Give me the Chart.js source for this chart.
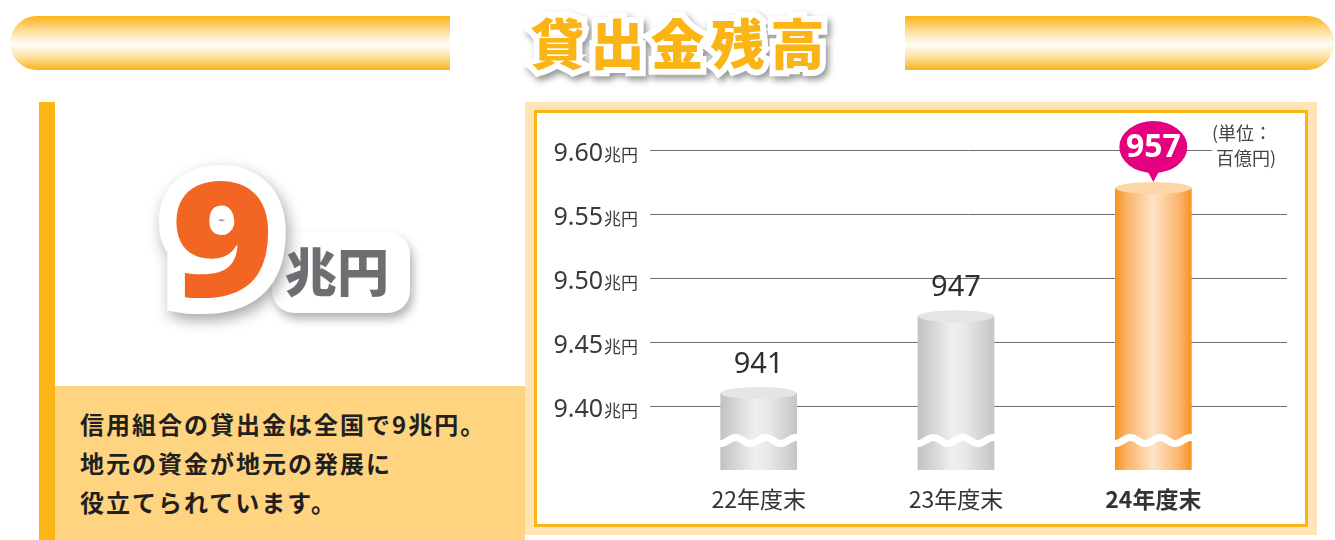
<!DOCTYPE html>
<html><head><meta charset="utf-8">
<script src="https://cdn.jsdelivr.net/npm/chart.js@4/dist/chart.umd.min.js"></script>
<style>
html,body{margin:0;padding:0;background:#fff;}
body{width:1335px;height:540px;position:relative;overflow:hidden;font-family:"Noto Sans CJK JP","Noto Sans",sans-serif;}
.hbar{position:absolute;top:16px;height:54px;background:linear-gradient(to bottom,#fbb415 0%,#fcc85c 14%,#fee6b3 33%,#fffdf8 53%,#fee4ab 74%,#fcc550 90%,#fbb415 100%);}
#hl{left:10px;width:440px;border-radius:27px 0 0 27px;}
#hr{left:905px;width:429px;border-radius:0 27px 27px 0;}
.title{position:absolute;left:450px;width:455px;top:15px;text-align:center;font-size:54px;font-weight:900;line-height:54px;letter-spacing:6px;padding-left:6px;box-sizing:border-box;white-space:nowrap;}
.title.back{color:#fff;-webkit-text-stroke:12px #fff;filter:drop-shadow(3px 4px 3px rgba(80,80,80,.6));}
.title.front{color:#fbb415;}
#ybar{position:absolute;left:39px;top:102px;width:16px;height:438px;background:#fbb615;}
#pbox{position:absolute;left:55px;top:386px;width:470px;height:154px;background:#fed480;}
#ptext{position:absolute;left:80px;top:404px;font-size:24px;font-weight:700;line-height:39px;letter-spacing:2px;color:#231f20;white-space:nowrap;}
.big9{position:absolute;left:171px;top:155px;font-family:"Noto Sans",sans-serif;font-weight:900;font-size:160px;line-height:160px;transform:scaleX(1.1);transform-origin:left top;}
.big9.back{color:#fff;-webkit-text-stroke:32px #fff;filter:drop-shadow(3px 6px 7px rgba(0,0,0,.35));}
.big9.front{color:#f26522;}
#chorect{position:absolute;left:272px;top:232px;width:138px;height:81px;border-radius:22px;background:#fff;box-shadow:3px 6px 10px rgba(0,0,0,.3);}
#cho{position:absolute;left:285px;top:244px;font-size:52px;font-weight:900;line-height:52px;color:#6d6e71;white-space:nowrap;}
#cpo{position:absolute;left:525px;top:102px;width:792px;height:433px;background:#ffe5b5;}
#cpi{position:absolute;left:534px;top:110px;width:774px;height:417px;box-sizing:border-box;border:3px solid #fbb615;background:#fff;}
#c{position:absolute;left:537px;top:113px;}
#unit{position:absolute;left:1212px;top:120px;width:88px;font-size:18px;line-height:25px;color:#444;background:#fff;white-space:nowrap;}
</style></head>
<body>
<div class="hbar" id="hl"></div>
<div class="hbar" id="hr"></div>
<div class="title back">貸出金残高</div>
<div class="title front">貸出金残高</div>

<div id="ybar"></div>
<div id="pbox"></div>
<div id="ptext">信用組合の貸出金は全国で9兆円。<br>地元の資金が地元の発展に<br>役立てられています。</div>
<div id="chorect"></div>
<div class="big9 back">9</div>
<div class="big9 front">9</div>
<div id="cho">兆円</div>

<div id="cpo"></div>
<div id="cpi"></div>
<canvas id="c" width="768" height="411"></canvas>
<div id="unit">(単位：<br>&nbsp;百億円)</div>

<script>
// ---- data ----
const categories = ['22年度末', '23年度末', '24年度末'];
const loanValues = [9.41, 9.47, 9.57];          // 兆円
const valueLabels = ['941', '947', '957'];      // 百億円
const yTickValues = [9.40, 9.45, 9.50, 9.55, 9.60];
const yTickLabels = ['9.40', '9.45', '9.50', '9.55', '9.60'];
const yTickUnit = '兆円';
const highlightIndex = 2;
const breakValue = 9.373;

const HALF = 38;
function barFill(ctx) {
  const chart = ctx.chart, xs = chart.scales.x;
  if (!xs || !chart.chartArea || ctx.dataIndex === undefined) return '#ddd';
  const cx = xs.getPixelForValue(ctx.dataIndex);
  const g = chart.ctx.createLinearGradient(cx - HALF, 0, cx + HALF, 0);
  if (ctx.dataIndex === highlightIndex) {
    g.addColorStop(0, '#f7941d'); g.addColorStop(0.15, '#fab468');
    g.addColorStop(0.5, '#fee4c7'); g.addColorStop(0.85, '#fbb36a'); g.addColorStop(1, '#f7941d');
  } else {
    g.addColorStop(0, '#c1c2c4'); g.addColorStop(0.45, '#eeefef');
    g.addColorStop(0.6, '#e9eaea'); g.addColorStop(1, '#c4c5c7');
  }
  return g;
}

const gridPlugin = {
  id: 'grid',
  beforeDatasetsDraw(chart) {
    const {ctx, chartArea: a, scales: {y}} = chart;
    ctx.save();
    ctx.strokeStyle = '#6e6e6e'; ctx.lineWidth = 1;
    yTickValues.forEach((v, i) => {
      const py = Math.round(y.getPixelForValue(v)) + 0.5;
      ctx.beginPath(); ctx.moveTo(a.left - 10, py); ctx.lineTo(a.right + 35, py); ctx.stroke();
      ctx.textBaseline = 'alphabetic'; ctx.textAlign = 'right'; ctx.fillStyle = '#3a3a3a';
      ctx.font = '17px "Noto Sans CJK JP"';
      const uw = ctx.measureText(yTickUnit).width;
      ctx.fillText(yTickUnit, a.left - 22, py + 10);
      ctx.font = '25px "Noto Sans"';
      ctx.fillText(yTickLabels[i], a.left - 22 - uw - 1, py + 10);
    });
    ctx.restore();
  }
};

const decoPlugin = {
  id: 'deco',
  afterDatasetsDraw(chart) {
    const {ctx, scales: {y}} = chart;
    const meta = chart.getDatasetMeta(0);
    const yb = y.getPixelForValue(breakValue);
    meta.data.forEach((bar, i) => {
      const x = bar.x, top = bar.y, w = bar.width, hl = i === highlightIndex;
      ctx.save();
      // top cap
      ctx.fillStyle = hl ? '#fdd6a7' : '#e4e5e6';
      ctx.beginPath(); ctx.ellipse(x, top, w / 2, 6, 0, 0, Math.PI * 2); ctx.fill();
      // wavy break
      ctx.save();
      ctx.beginPath(); ctx.rect(x - w / 2 - 1, yb - 15, w + 2, 30); ctx.clip();
      ctx.strokeStyle = '#fff'; ctx.lineWidth = 7;
      ctx.beginPath();
      for (let px = x - w / 2 - 2; px <= x + w / 2 + 2; px += 1) {
        const py = yb + 3 * Math.sin((px - (x - w / 2)) / 30 * Math.PI * 2 + Math.PI / 2);
        if (px === x - w / 2 - 2) ctx.moveTo(px, py); else ctx.lineTo(px, py);
      }
      ctx.stroke();
      ctx.restore();
      // labels
      if (hl) {
        const cy = top - 41;
        ctx.fillStyle = '#e5007f';
        ctx.beginPath(); ctx.ellipse(x, cy, 34, 26, 0, 0, Math.PI * 2); ctx.fill();
        ctx.beginPath(); ctx.moveTo(x - 8, cy + 20); ctx.lineTo(x + 8, cy + 20); ctx.lineTo(x, top - 6); ctx.closePath(); ctx.fill();
        ctx.fillStyle = '#fff'; ctx.font = 'bold 32px "Noto Sans"';
        ctx.textAlign = 'center'; ctx.textBaseline = 'middle';
        ctx.fillText(valueLabels[i], x, cy + 1);
      } else {
        ctx.fillStyle = '#2e2e2e'; ctx.font = '29px "Noto Sans"';
        ctx.textAlign = 'center'; ctx.textBaseline = 'middle';
        ctx.fillText(valueLabels[i], x, top - 28);
      }
      ctx.restore();
    });
  }
};

new Chart(document.getElementById('c'), {
  type: 'bar',
  data: {
    labels: categories,
    datasets: [{data: loanValues, backgroundColor: barFill, borderWidth: 0, barThickness: 76}]
  },
  options: {
    responsive: false,
    animation: false,
    layout: {padding: {left: 123, right: 53, top: 11, bottom: 0}},
    plugins: {legend: {display: false}, tooltip: {enabled: false}},
    scales: {
      y: {display: false, min: 9.35, max: 9.62},
      x: {
        grid: {display: false, drawTicks: false},
        border: {display: false},
        ticks: {
          padding: 15, color: '#333', maxRotation: 0,
          font: c => ({family: '"Noto Sans CJK JP"', size: 23, weight: c.index === highlightIndex ? 'bold' : 'normal'})
        },
        afterFit: s => { s.height = 54; }
      }
    }
  },
  plugins: [gridPlugin, decoPlugin]
});
</script>
</body></html>
